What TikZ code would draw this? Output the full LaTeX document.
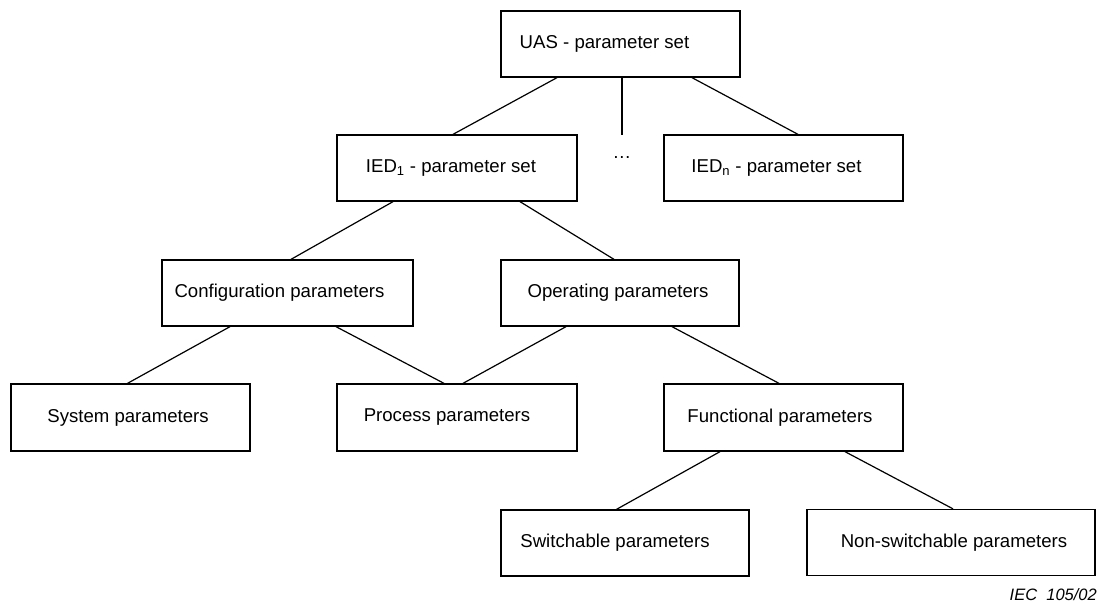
\documentclass[tikz,border=0pt]{standalone}
\usepackage{fontspec}
\setmainfont{Liberation Sans}
\tikzset{
  parbox/.style={draw,line width=1.3pt,minimum width=#1,minimum height=66pt,inner sep=0pt},
  link/.style={line width=1.2pt}
}
\begin{document}
\begin{tikzpicture}[x=1pt,y=-1pt,font=\fontsize{18.6}{22}\selectfont]
            \useasboundingbox (0,0) rectangle (1098,603);

            % Parameter set boxes, top two rows
            \node [parbox=239pt] (uas)  at (620.5,44)  {\hspace{-32pt}UAS - parameter set};
            \node [parbox=240pt] (ied1) at (457,168)   {\hspace{-12pt}IED$_{\mathrm{1}}$ - parameter set};
            \node [parbox=239pt] (iedn) at (783.5,168) {\hspace{-14pt}IED$_{\mathrm{n}}$ - parameter set};
            \node (dots) at (622,158) {…};

            % Parameter groups
            \node [parbox=251pt] (config) at (287.5,293) {\hspace{-16pt}Configuration parameters};
            \node [parbox=238pt] (oper)   at (620,293)   {\hspace{-4pt}Operating parameters};
            \node [parbox=239pt,minimum height=67pt] (system)  at (130.5,417.5) {\hspace{-5pt}System parameters};
            \node [parbox=240pt,minimum height=67pt] (process) at (457,417.5)   {\hspace{-20pt}Process parameters};
            \node [parbox=239pt,minimum height=67pt] (func)    at (783.5,417.5) {\hspace{-7pt}Functional parameters};
            \node [parbox=248pt] (switch)    at (625,543) {\hspace{-20pt}Switchable parameters};
            \node [parbox=288pt] (nonswitch) at (951,542.5) {\hspace{6pt}Non-switchable parameters};

            % Connecting lines
            \coordinate (gap) at (622,135);
            \draw [link] ([xshift=-63.5pt]uas.south) -- ([xshift=-4pt]ied1.north);
            \draw [link] ([xshift=1.5pt]uas.south) -- (gap);
            \draw [link] ([xshift=71.5pt]uas.south) -- ([xshift=14.5pt]iedn.north);
            \draw [link] ([xshift=-64pt]ied1.south) -- ([xshift=3.5pt]config.north);
            \draw [link] ([xshift=63pt]ied1.south) -- ([xshift=-6pt]oper.north);
            \draw [link] ([xshift=-57.5pt]config.south) -- ([xshift=-3pt]system.north);
            \draw [link] ([xshift=48.5pt]config.south) -- ([xshift=-13pt]process.north);
            \draw [link] ([xshift=-54pt]oper.south) -- ([xshift=6pt]process.north);
            \draw [link] ([xshift=52pt]oper.south) -- ([xshift=-4.5pt]func.north);
            \draw [link] ([xshift=-63.5pt]func.south) -- ([xshift=-8.5pt]switch.north);
            \draw [link] ([xshift=61.5pt]func.south) -- ([xshift=2pt]nonswitch.north);

            % Figure number
            \node [anchor=east,inner sep=0pt,font=\fontsize{16.5}{20}\selectfont\itshape] (figno) at (1097,595) {IEC~~105/02};
        \end{tikzpicture}
\end{document}
